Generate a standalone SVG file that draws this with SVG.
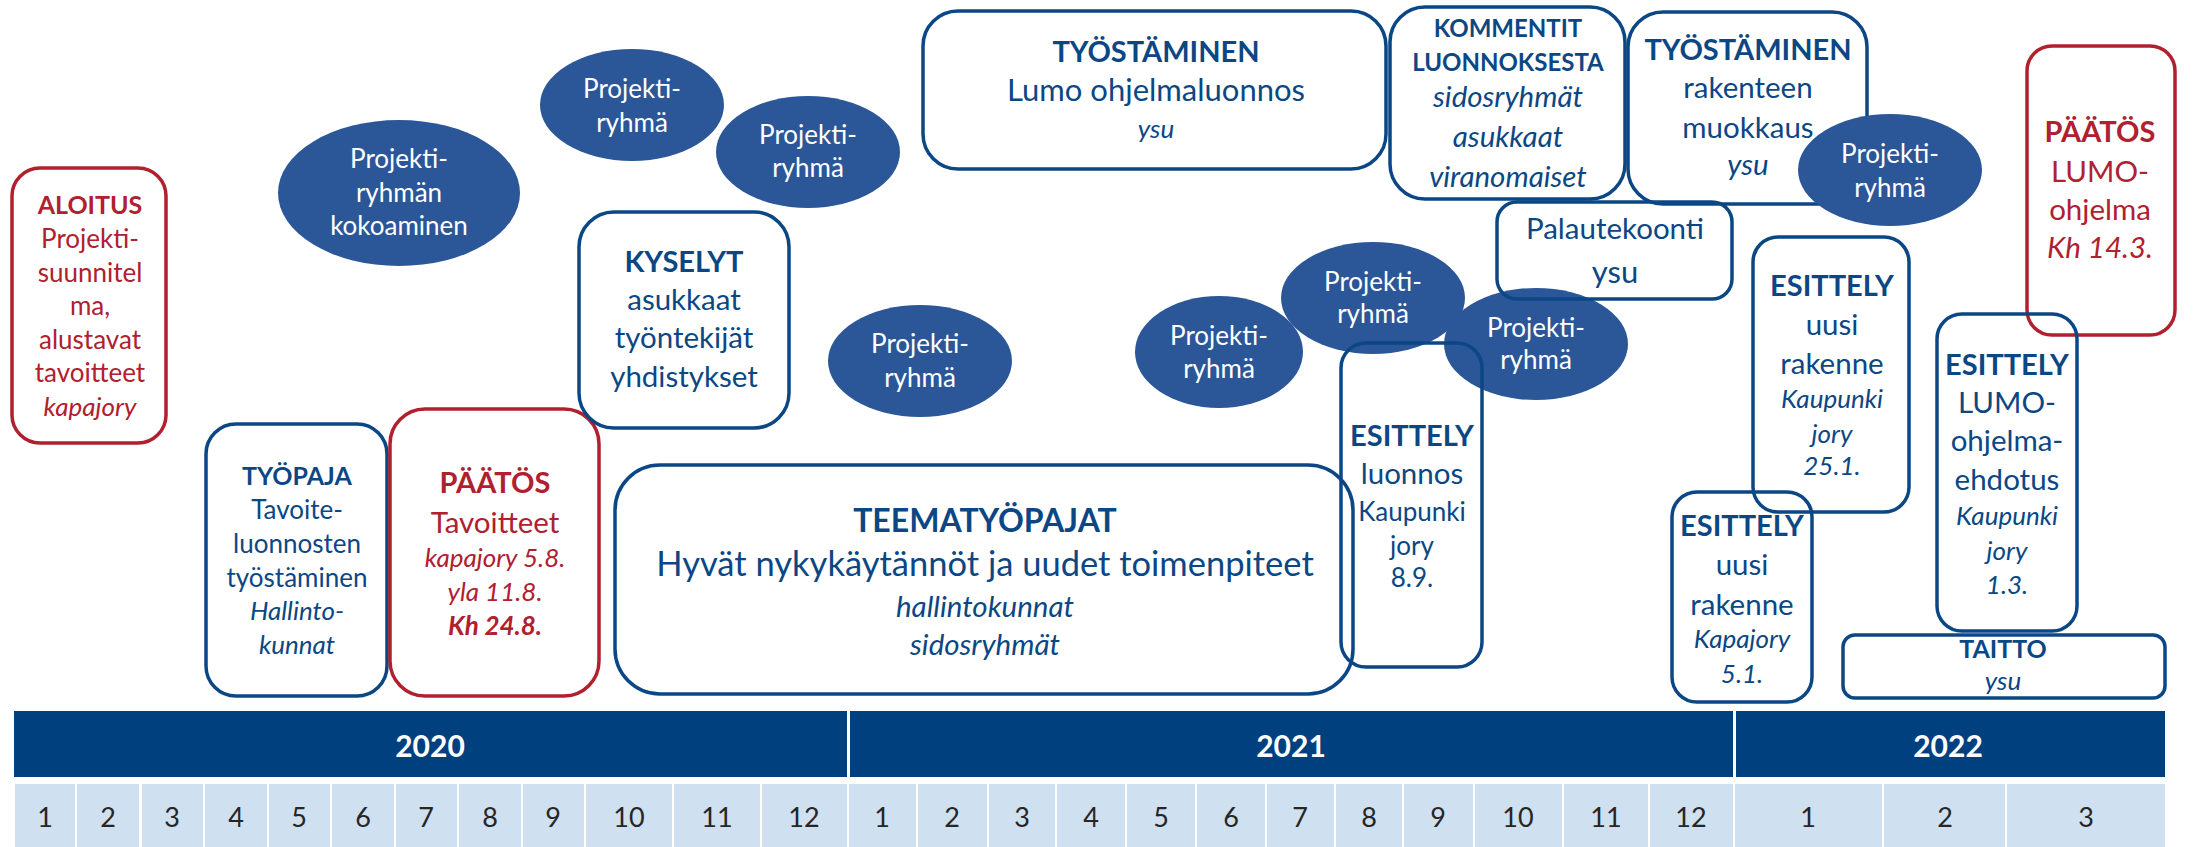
<svg xmlns="http://www.w3.org/2000/svg" width="2196" height="847" viewBox="0 0 2196 847">
<style>
text{font-family:Lato,"Liberation Sans",sans-serif;text-anchor:middle}
.b{fill:none;stroke:#0B4784;stroke-width:3.5}
.r{fill:none;stroke:#B0202F;stroke-width:3.5}
.el{fill:#2B5698}
.tb{fill:#0B4784}
.tr{fill:#B0202F}
.tw{fill:#FFFFFF}
.s{font-size:26px}
.m{font-size:29.5px}
.l{font-size:32px}
.bo{font-weight:bold}
.s.bo{font-size:25px}
.m.bo{font-size:29px}
.it{font-style:italic}
.yr{fill:#FFFFFF;font-size:30px;font-weight:bold}
.mo{fill:#262626;font-size:27px}
.cell{fill:#CFE0F0}
</style>
<g id="calendar">
<rect x="14" y="711" width="2151" height="66" fill="#00407F"/>
<rect x="847" y="711" width="3" height="66" fill="#FFFFFF"/>
<rect x="1733" y="711" width="3" height="66" fill="#FFFFFF"/>
<text class="yr" x="430" y="757">2020</text>
<text class="yr" x="1291" y="757">2021</text>
<text class="yr" x="1948" y="757">2022</text>
<rect class="cell" x="15" y="784" width="60" height="63"/>
<rect class="cell" x="77" y="784" width="62" height="63"/>
<rect class="cell" x="142" y="784" width="61" height="63"/>
<rect class="cell" x="205" y="784" width="62" height="63"/>
<rect class="cell" x="269" y="784" width="61" height="63"/>
<rect class="cell" x="332" y="784" width="62" height="63"/>
<rect class="cell" x="396" y="784" width="61" height="63"/>
<rect class="cell" x="459" y="784" width="62" height="63"/>
<rect class="cell" x="523" y="784" width="61" height="63"/>
<rect class="cell" x="586" y="784" width="86" height="63"/>
<rect class="cell" x="674" y="784" width="86" height="63"/>
<rect class="cell" x="762" y="784" width="85" height="63"/>
<rect class="cell" x="849" y="784" width="67" height="63"/>
<rect class="cell" x="918" y="784" width="69" height="63"/>
<rect class="cell" x="989" y="784" width="66" height="63"/>
<rect class="cell" x="1057" y="784" width="68" height="63"/>
<rect class="cell" x="1127" y="784" width="68" height="63"/>
<rect class="cell" x="1197" y="784" width="68" height="63"/>
<rect class="cell" x="1267" y="784" width="67" height="63"/>
<rect class="cell" x="1336" y="784" width="66" height="63"/>
<rect class="cell" x="1404" y="784" width="69" height="63"/>
<rect class="cell" x="1475" y="784" width="87" height="63"/>
<rect class="cell" x="1564" y="784" width="84" height="63"/>
<rect class="cell" x="1650" y="784" width="83" height="63"/>
<rect class="cell" x="1735" y="784" width="147" height="63"/>
<rect class="cell" x="1884" y="784" width="121" height="63"/>
<rect class="cell" x="2007" y="784" width="158" height="63"/>
<text class="mo" x="45" y="827">1</text>
<text class="mo" x="108" y="827">2</text>
<text class="mo" x="172" y="827">3</text>
<text class="mo" x="236" y="827">4</text>
<text class="mo" x="299" y="827">5</text>
<text class="mo" x="363" y="827">6</text>
<text class="mo" x="426" y="827">7</text>
<text class="mo" x="490" y="827">8</text>
<text class="mo" x="553" y="827">9</text>
<text class="mo" x="629" y="827">10</text>
<text class="mo" x="717" y="827">11</text>
<text class="mo" x="804" y="827">12</text>
<text class="mo" x="882" y="827">1</text>
<text class="mo" x="952" y="827">2</text>
<text class="mo" x="1022" y="827">3</text>
<text class="mo" x="1091" y="827">4</text>
<text class="mo" x="1161" y="827">5</text>
<text class="mo" x="1231" y="827">6</text>
<text class="mo" x="1300" y="827">7</text>
<text class="mo" x="1369" y="827">8</text>
<text class="mo" x="1438" y="827">9</text>
<text class="mo" x="1518" y="827">10</text>
<text class="mo" x="1606" y="827">11</text>
<text class="mo" x="1691" y="827">12</text>
<text class="mo" x="1808" y="827">1</text>
<text class="mo" x="1945" y="827">2</text>
<text class="mo" x="2086" y="827">3</text>
</g>
<g id="ell-kokoaminen"><ellipse class="el" cx="399" cy="193" rx="121" ry="73"/><text class="tw s" x="399" y="168">Projekti-</text><text class="tw s" x="399" y="202">ryhmän</text><text class="tw s" x="399" y="235">kokoaminen</text></g>
<g id="ell-1"><ellipse class="el" cx="632" cy="105" rx="92" ry="56"/><text class="tw s" x="632" y="98">Projekti-</text><text class="tw s" x="632" y="132">ryhmä</text></g>
<g id="ell-2"><ellipse class="el" cx="808" cy="152" rx="92" ry="56"/><text class="tw s" x="808" y="144">Projekti-</text><text class="tw s" x="808" y="177">ryhmä</text></g>
<g id="ell-3"><ellipse class="el" cx="920" cy="361" rx="92" ry="56"/><text class="tw s" x="920" y="353">Projekti-</text><text class="tw s" x="920" y="387">ryhmä</text></g>
<g id="ell-a"><ellipse class="el" cx="1219" cy="352" rx="84" ry="56"/><text class="tw s" x="1219" y="345">Projekti-</text><text class="tw s" x="1219" y="378">ryhmä</text></g>
<g id="ell-b"><ellipse class="el" cx="1373" cy="298" rx="92" ry="56"/><text class="tw s" x="1373" y="291">Projekti-</text><text class="tw s" x="1373" y="323">ryhmä</text></g>
<g id="ell-c"><ellipse class="el" cx="1536" cy="344" rx="92" ry="56"/><text class="tw s" x="1536" y="337">Projekti-</text><text class="tw s" x="1536" y="369">ryhmä</text></g>
<g id="aloitus"><rect class="r" x="12" y="168" width="154" height="275" rx="28"/>
<text class="tr s bo" x="90" y="214">ALOITUS</text><text class="tr s" x="90" y="248">Projekti-</text><text class="tr s" x="90" y="282">suunnitel</text><text class="tr s" x="90" y="315">ma,</text><text class="tr s" x="90" y="349">alustavat</text><text class="tr s" x="90" y="382">tavoitteet</text><text class="tr s it" x="90" y="416">kapajory</text></g>
<g id="tyopaja"><rect class="b" x="206" y="424" width="181" height="272" rx="30"/>
<text class="tb s bo" x="297" y="485">TYÖPAJA</text><text class="tb s" x="297" y="519">Tavoite-</text><text class="tb s" x="297" y="553">luonnosten</text><text class="tb s" x="297" y="587">työstäminen</text><text class="tb s it" x="297" y="620">Hallinto-</text><text class="tb s it" x="297" y="654">kunnat</text></g>
<g id="paatos-tavoitteet"><rect class="r" x="390" y="409" width="209" height="287" rx="35"/>
<text class="tr m bo" x="495" y="493">PÄÄTÖS</text><text class="tr m" x="495" y="533">Tavoitteet</text><text class="tr s it" x="495" y="567">kapajory 5.8.</text><text class="tr s it" x="495" y="601">yla 11.8.</text><text class="tr s it" x="495" y="635" style="font-weight:bold">Kh 24.8.</text></g>
<g id="kyselyt"><rect class="b" x="579" y="212" width="210" height="216" rx="35"/>
<text class="tb m bo" x="684" y="272">KYSELYT</text><text class="tb m" x="684" y="310">asukkaat</text><text class="tb m" x="684" y="348">työntekijät</text><text class="tb m" x="684" y="387">yhdistykset</text></g>
<g id="teematyopajat"><rect class="b" x="615" y="465" width="738" height="229" rx="45"/>
<text class="tb l bo" x="985" y="532">TEEMATYÖPAJAT</text><text class="tb l" x="985" y="576" style="font-size:34.5px">Hyvät nykykäytännöt ja uudet toimenpiteet</text><text class="tb m it" x="985" y="617">hallintokunnat</text><text class="tb m it" x="985" y="655">sidosryhmät</text></g>
<g id="tyostaminen-lumo"><rect class="b" x="923" y="11" width="463" height="158" rx="35"/>
<text class="tb m bo" x="1156" y="62">TYÖSTÄMINEN</text><text class="tb m" x="1156" y="101" style="font-size:31px">Lumo ohjelmaluonnos</text><text class="tb s it" x="1156" y="138">ysu</text></g>
<g id="kommentit"><rect class="b" x="1390" y="7" width="235" height="192" rx="35"/>
<text class="tb s bo" x="1508" y="37" style="font-size:24px">KOMMENTIT</text><text class="tb s bo" x="1508" y="71" style="font-size:24px">LUONNOKSESTA</text><text class="tb m it" x="1508" y="107">sidosryhmät</text><text class="tb m it" x="1508" y="147">asukkaat</text><text class="tb m it" x="1508" y="187">viranomaiset</text></g>
<g id="tyostaminen-rakenne"><rect class="b" x="1628" y="12" width="239" height="192" rx="35"/>
<text class="tb m bo" x="1748" y="60">TYÖSTÄMINEN</text><text class="tb m" x="1748" y="98">rakenteen</text><text class="tb m" x="1748" y="138">muokkaus</text><text class="tb m it" x="1748" y="175">ysu</text></g>
<g id="ell-r"><ellipse class="el" cx="1890" cy="170" rx="92" ry="56"/><text class="tw s" x="1890" y="163">Projekti-</text><text class="tw s" x="1890" y="197">ryhmä</text></g>
<g id="palautekoonti"><rect class="b" x="1497" y="202" width="235" height="97" rx="20"/>
<text class="tb m" x="1615" y="239">Palautekoonti</text><text class="tb m" x="1615" y="283" style="font-size:31px">ysu</text></g>
<g id="esittely-luonnos"><rect class="b" x="1341" y="343" width="141" height="324" rx="25"/>
<text class="tb m bo" x="1412" y="446">ESITTELY</text><text class="tb m" x="1412" y="484">luonnos</text><text class="tb s" x="1412" y="521">Kaupunki</text><text class="tb s" x="1412" y="555">jory</text><text class="tb s" x="1412" y="587">8.9.</text></g>
<g id="esittely-rakenne-kaupunki"><rect class="b" x="1753" y="237" width="156" height="275" rx="25"/>
<text class="tb m bo" x="1832" y="296">ESITTELY</text><text class="tb m" x="1832" y="335">uusi</text><text class="tb m" x="1832" y="374">rakenne</text><text class="tb s it" x="1832" y="408">Kaupunki</text><text class="tb s it" x="1832" y="443">jory</text><text class="tb s it" x="1832" y="475">25.1.</text></g>
<g id="esittely-rakenne-kapajory"><rect class="b" x="1672" y="492" width="140" height="210" rx="25"/>
<text class="tb m bo" x="1742" y="536">ESITTELY</text><text class="tb m" x="1742" y="575">uusi</text><text class="tb m" x="1742" y="615">rakenne</text><text class="tb s it" x="1742" y="648">Kapajory</text><text class="tb s it" x="1742" y="683">5.1.</text></g>
<g id="paatos-lumo"><rect class="r" x="2027" y="46" width="148" height="289" rx="25"/>
<text class="tr m bo" x="2100" y="142">PÄÄTÖS</text><text class="tr m" x="2100" y="182">LUMO-</text><text class="tr m" x="2100" y="220">ohjelma</text><text class="tr m it" x="2100" y="258">Kh 14.3.</text></g>
<g id="esittely-lumo"><rect class="b" x="1937" y="314" width="140" height="317" rx="25"/>
<text class="tb m bo" x="2007" y="375">ESITTELY</text><text class="tb m" x="2007" y="413">LUMO-</text><text class="tb m" x="2007" y="451">ohjelma-</text><text class="tb m" x="2007" y="490">ehdotus</text><text class="tb s it" x="2007" y="525">Kaupunki</text><text class="tb s it" x="2007" y="560">jory</text><text class="tb s it" x="2007" y="594">1.3.</text></g>
<g id="taitto"><rect class="b" x="1843" y="635" width="322" height="63" rx="12"/>
<text class="tb s bo" x="2003" y="658">TAITTO</text><text class="tb s it" x="2003" y="690">ysu</text></g>
<g id="connectors"></g>
</svg>
